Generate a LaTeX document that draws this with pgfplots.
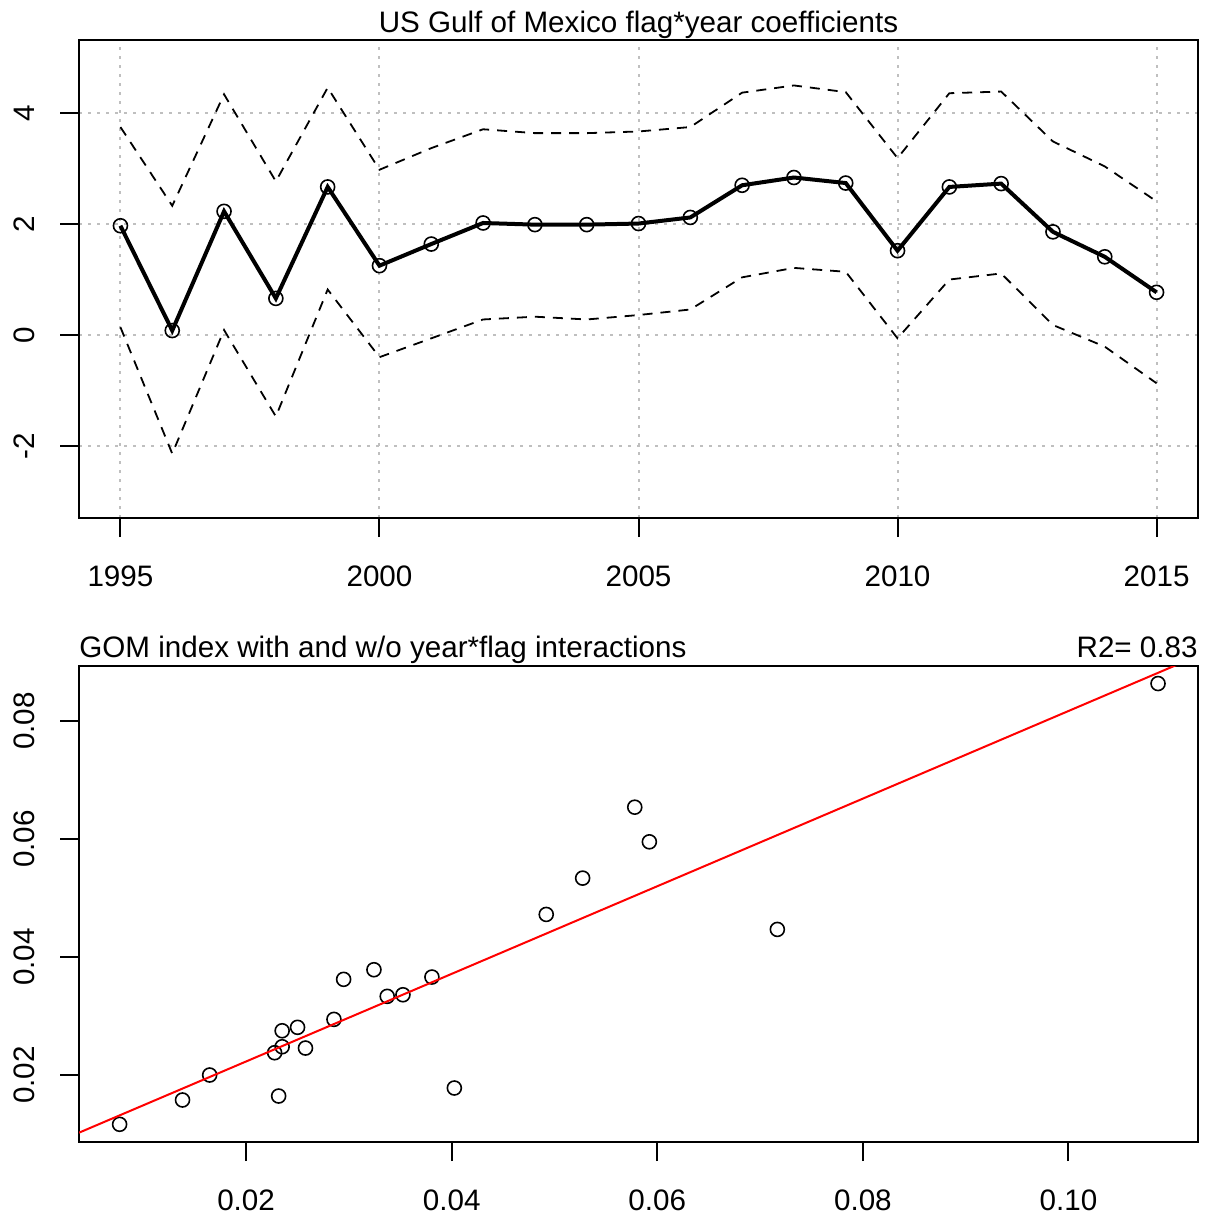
\documentclass[border=0pt]{standalone}
\usepackage{pgfplots}
\pgfplotsset{compat=1.18}
\usepackage{pgfplotstable}
\usepackage{fontspec}
\setmainfont{Liberation Sans}

% Flag*year coefficients with upper and lower confidence bounds
\pgfplotstableread{
year est upper lower
1995 1.97 3.75 0.14
1996 0.08 2.33 -2.14
1997 2.23 4.34 0.09
1998 0.66 2.77 -1.47
1999 2.67 4.46 0.82
2000 1.25 2.98 -0.40
2001 1.64 3.37 -0.06
2002 2.02 3.71 0.28
2003 1.99 3.64 0.33
2004 1.99 3.64 0.28
2005 2.01 3.67 0.36
2006 2.12 3.75 0.46
2007 2.70 4.37 1.04
2008 2.84 4.50 1.21
2009 2.74 4.38 1.14
2010 1.52 3.19 -0.06
2011 2.67 4.36 1.00
2012 2.73 4.39 1.11
2013 1.86 3.49 0.18
2014 1.41 3.04 -0.21
2015 0.77 2.41 -0.87
}\coeftable

% Index with (x) and without (y) year*flag interactions
\pgfplotstableread{
x y
0.00770 0.01165
0.01382 0.01577
0.01646 0.02000
0.02278 0.02378
0.02351 0.02479
0.02351 0.02750
0.02317 0.01644
0.02501 0.02808
0.02578 0.02457
0.02855 0.02943
0.02949 0.03621
0.03244 0.03784
0.03373 0.03333
0.03526 0.03360
0.03808 0.03660
0.04026 0.01780
0.04920 0.04721
0.05274 0.05336
0.05781 0.06538
0.05923 0.05951
0.07168 0.04467
0.10871 0.08633
}\indextable

% Fitted regression line, end points across the plotting range
\pgfplotstableread{
x y
0.00375 0.01023
0.11260 0.09103
}\fittable

\newcommand{\rfont}{\fontsize{14.8}{17}\selectfont}

\pgfplotsset{
  rstyle/.style={
    scale only axis,
    width=559.5pt,
    axis line style={line width=1pt, black},
    tick align=outside,
    major tick length=9.5pt,
    tick style={line width=1pt, black},
    xtick pos=left, ytick pos=left,
    scaled ticks=false,
    every tick label/.append style={font=\rfont, inner sep=0pt},
    xticklabel style={anchor=base, yshift=-24.8pt},
    yticklabel style={xshift=-13pt, rotate=90, anchor=base},
    clip mode=individual,
  },
}

\begin{document}
\begin{tikzpicture}
\path[use as bounding box] (0pt,0pt) rectangle (602.5pt,-609pt);

\begin{axis}[
  rstyle,
  at={(39.5pt,-259pt)}, anchor=south west,
  height=239pt,
  xmin=1994.2, xmax=2015.8,
  ymin=-3.3, ymax=5.32,
  xtick={1995,2000,2005,2010,2015},
  xticklabels={1995,2000,2005,2010,2015},
  ytick={-2,0,2,4},
  yticklabels={-2,0,2,4},
  grid=major,
  major grid style={color=lightgray, line width=1pt, dash pattern=on 1.5pt off 3pt},
]
\addplot[black, line width=0.9pt, dash pattern=on 5pt off 4pt] table[x=year, y=upper] {\coeftable};
\addplot[black, line width=0.9pt, dash pattern=on 5pt off 4pt] table[x=year, y=lower] {\coeftable};
\addplot[black, line width=2pt, mark=o, mark size=3.5pt,
  mark options={line width=0.8pt, solid}] table[x=year, y=est] {\coeftable};
\node[font=\rfont, anchor=base, inner sep=0pt] at (rel axis cs:0.5,1) [yshift=3.5pt]
  {US Gulf of Mexico flag*year coefficients};
\end{axis}

\begin{axis}[
  rstyle,
  at={(39.5pt,-571pt)}, anchor=south west,
  height=238pt,
  xmin=0.00375, xmax=0.1126,
  ymin=0.00865, ymax=0.0893,
  xtick={0.02,0.04,0.06,0.08,0.10},
  xticklabels={0.02,0.04,0.06,0.08,0.10},
  ytick={0.02,0.04,0.06,0.08},
  yticklabels={0.02,0.04,0.06,0.08},
]
\addplot[only marks, black, mark=o, mark size=3.5pt,
  mark options={line width=0.8pt}] table[x=x, y=y] {\indextable};
\addplot[red, line width=1pt] table[x=x, y=y] {\fittable};
\node[font=\rfont, anchor=base west, inner sep=0pt] at (rel axis cs:0,1) [yshift=4.5pt]
  {GOM index with and w/o year*flag interactions};
\node[font=\rfont, anchor=base east, inner sep=0pt] at (rel axis cs:1,1) [yshift=4.5pt]
  {R2= 0.83};
\end{axis}
\end{tikzpicture}
\end{document}
